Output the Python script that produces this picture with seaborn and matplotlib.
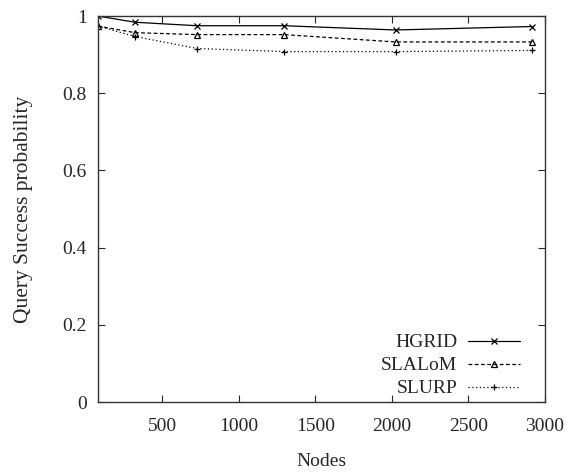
import matplotlib
matplotlib.use("Agg")
import matplotlib.pyplot as plt
import seaborn as sns
import pandas as pd
from matplotlib.lines import Line2D

nodes = [81, 324, 729, 1296, 2025, 2916]
hgrid = [1.0, 0.984, 0.975, 0.975, 0.964, 0.973]
slalom = [0.974, 0.957, 0.952, 0.952, 0.933, 0.933]
slurp = [0.974, 0.947, 0.916, 0.908, 0.908, 0.911]
series_names = ["HGRID", "SLALoM", "SLURP"]
x_ticks = [500, 1000, 1500, 2000, 2500, 3000]
y_ticks = [0, 0.2, 0.4, 0.6, 0.8, 1]
y_tick_labels = ["0", "0.2", "0.4", "0.6", "0.8", "1"]

sns.set_style("ticks")
plt.rcParams["font.family"] = ["Liberation Serif", "DejaVu Serif"]

fig = plt.figure(figsize=(5.68, 4.73), dpi=100)
ax = fig.add_axes([0.1725, 0.15, 0.787, 0.816])

styles = {
    "HGRID": dict(ls="-", marker="x", mfc="black"),
    "SLALoM": dict(ls=(0, (3, 2)), marker="^", mfc="none"),
    "SLURP": dict(ls=(0, (1, 2)), marker="+", mfc="black"),
}
handles = []
for name, vals in zip(series_names, [hgrid, slalom, slurp]):
    st = styles[name]
    d = pd.DataFrame({"Nodes": nodes, "value": vals})
    sns.lineplot(data=d, x="Nodes", y="value", ax=ax, color="black", linewidth=0.9,
                 linestyle=st["ls"], marker=st["marker"], markersize=5,
                 markerfacecolor=st["mfc"], markeredgecolor="black", markeredgewidth=0.9)
    handles.append(Line2D([], [], color="black", lw=0.9, ls=st["ls"], marker=st["marker"],
                          markersize=5, markerfacecolor=st["mfc"], markeredgecolor="black",
                          markeredgewidth=0.9))

ax.set_xlim(81, 3000)
ax.set_ylim(0, 1)
ax.set_xticks(x_ticks)
ax.set_yticks(y_ticks)
ax.set_yticklabels(y_tick_labels)
ax.tick_params(direction="in", top=True, right=True, labelsize=14, length=5, width=0.8)
ax.tick_params(axis="x", pad=11.5)
ax.tick_params(axis="y", pad=8)
for s in ax.spines.values():
    s.set_linewidth(1.0)
    s.set_color("#333333")
ax.set_xlabel("Nodes", fontsize=14, labelpad=13)
ax.set_ylabel("Query Success probability", fontsize=15.5, labelpad=21)

ax.legend(handles, series_names, loc="lower right", bbox_to_anchor=(0.944, 0.012),
          frameon=False, markerfirst=False, fontsize=14, handlelength=2.67,
          labelspacing=0.28, borderaxespad=0, borderpad=0, handletextpad=0.56)

fig.savefig("out.png", dpi=100)
